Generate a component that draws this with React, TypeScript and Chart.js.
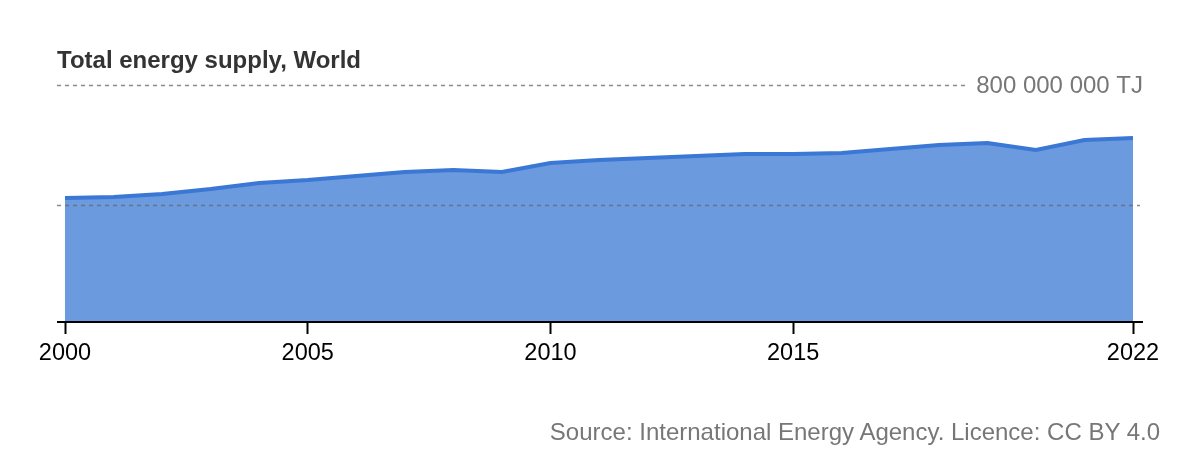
import React, { useEffect, useRef } from "react";
import { Chart, registerables } from "chart.js";

Chart.register(...registerables);

const years = [
  2000, 2001, 2002, 2003, 2004, 2005, 2006, 2007, 2008, 2009, 2010, 2011,
  2012, 2013, 2014, 2015, 2016, 2017, 2018, 2019, 2020, 2021, 2022,
];
const supplyTJ = [
  424e6, 428e6, 438e6, 455e6, 476e6, 486e6, 500e6, 514e6, 521e6, 514e6,
  545e6, 555e6, 562e6, 569e6, 576e6, 576e6, 579e6, 593e6, 607e6, 614e6,
  590e6, 624e6, 631e6,
];
const xTickYears = [2000, 2005, 2010, 2015, 2022];
const gridValues = [400e6, 800e6];
const topLabel = "800 000 000 TJ";
const titleText = "Total energy supply, World";
const sourceText = "Source: International Energy Agency. Licence: CC BY 4.0";

const FONT = "'Liberation Sans', Arial, Helvetica, sans-serif";

export default function App() {
  const ref = useRef<HTMLCanvasElement | null>(null);

  useEffect(() => {
    document.body.style.margin = "0";
    const canvas = ref.current;
    if (!canvas) return;

    const overlay = {
      id: "overlay",
      afterDatasetsDraw(chart: any) {
        const { ctx, chartArea } = chart;
        const ys = chart.scales.y;
        const maxV = ys.max;
        ctx.save();
        gridValues.forEach((v) => {
          const isTop = v === maxV;
          const y = Math.round(ys.getPixelForValue(v)) + 0.5 - (isTop ? 4 : 0);
          ctx.beginPath();
          ctx.setLineDash([4, 4]);
          ctx.lineWidth = 1.5;
          ctx.strokeStyle = "rgba(100,100,100,0.75)";
          ctx.moveTo(chartArea.left - 8, y);
          ctx.lineTo(isTop ? 965 : chartArea.right + 7, y);
          ctx.stroke();
          if (isTop) {
            ctx.setLineDash([]);
            ctx.fillStyle = "#777";
            ctx.font = `24px ${FONT}`;
            ctx.textAlign = "right";
            ctx.textBaseline = "middle";
            ctx.fillText(topLabel, chartArea.right + 10, y + 1);
          }
        });
        ctx.setLineDash([]);
        ctx.beginPath();
        ctx.strokeStyle = "#000";
        ctx.lineWidth = 2;
        const yb = ys.getPixelForValue(0) + 1;
        ctx.moveTo(chartArea.left - 8, yb);
        ctx.lineTo(chartArea.right + 10, yb);
        ctx.stroke();
        ctx.restore();
      },
    };

    const chart = new Chart(canvas, {
      type: "line",
      data: {
        datasets: [
          {
            data: years.map((y, i) => ({ x: y, y: supplyTJ[i] })),
            fill: "origin",
            backgroundColor: "#6b9ade",
            borderColor: "#3b77d4",
            borderWidth: 4,
            pointRadius: 0,
            tension: 0,
            clip: 10,
          } as any,
        ],
      },
      options: {
        responsive: false,
        animation: false,
        layout: { padding: { left: 65, right: 67, top: 89, bottom: 79 } },
        plugins: { legend: { display: false }, tooltip: { enabled: false } },
        scales: {
          x: {
            type: "linear",
            min: 2000,
            max: 2022,
            afterBuildTicks: (s: any) => {
              s.ticks = xTickYears.map((v) => ({ value: v }));
            },
            afterFit: (s: any) => {
              s.height = 60;
            },
            ticks: {
              autoSkip: false,
              maxRotation: 0,
              color: "#000",
              padding: 5,
              font: { family: FONT, size: 23.5 },
              callback: (v: any) => String(v),
            },
            grid: {
              drawOnChartArea: false,
              drawTicks: true,
              tickLength: 13,
              tickWidth: 2,
              tickColor: "#000",
              color: "#000",
            },
            border: { display: false },
          },
          y: {
            display: false,
            min: 0,
            max: 800e6,
          },
        },
      },
      plugins: [overlay],
    });
    return () => chart.destroy();
  }, []);

  return (
    <div
      style={{
        position: "absolute",
        left: 0,
        top: 0,
        width: 1200,
        height: 460,
        background: "#fff",
        fontFamily: FONT,
      }}
    >
      <canvas
        ref={ref}
        width={1200}
        height={460}
        style={{ position: "absolute", left: 0, top: 0, width: 1200, height: 460 }}
      />
      <div
        style={{
          position: "absolute",
          left: 57,
          top: 46,
          fontSize: 24,
          lineHeight: "28px",
          fontWeight: "bold",
          color: "#333",
          whiteSpace: "nowrap",
        }}
      >
        {titleText}
      </div>
      <div
        style={{
          position: "absolute",
          right: 40,
          top: 418,
          fontSize: 24,
          lineHeight: "28px",
          color: "#777",
          whiteSpace: "nowrap",
        }}
      >
        {sourceText}
      </div>
    </div>
  );
}
